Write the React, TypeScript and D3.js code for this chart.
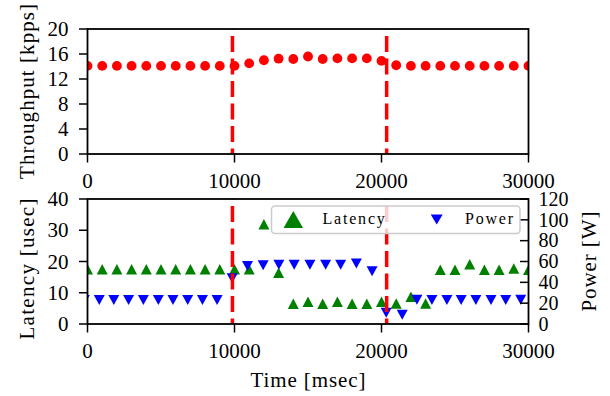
import React from 'react';
import * as d3 from 'd3';

// ---- data ----
const throughputTime = [0, 1000, 2000, 3000, 4000, 5000, 6000, 7000, 8000, 9000, 10000, 11000, 12000, 13000, 14000, 15000, 16000, 17000, 18000, 19000, 20000, 21000, 22000, 23000, 24000, 25000, 26000, 27000, 28000, 29000, 30000];
const throughput = [14.1, 14.1, 14.1, 14.1, 14.1, 14.1, 14.1, 14.1, 14.1, 14.1, 14.1, 14.5, 15.0, 15.25, 15.2, 15.6, 15.2, 15.3, 15.3, 15.3, 14.9, 14.2, 14.1, 14.1, 14.1, 14.1, 14.1, 14.1, 14.1, 14.1, 14.1];

const latencyTime = [0, 1000, 2000, 3000, 4000, 5000, 6000, 7000, 8000, 9000, 10000, 11000, 12000, 13000, 14000, 15000, 16000, 17000, 18000, 19000, 20000, 21000, 22000, 23000, 24000, 25000, 26000, 27000, 28000, 29000, 30000];
const latency = [17.5, 17.5, 17.5, 17.5, 17.5, 17.5, 17.5, 17.5, 17.5, 17.5, 17.5, 17.5, 31.9, 16.4, 6.5, 7.1, 6.5, 7.1, 6.5, 6.5, 7.1, 6.6, 8.7, 6.6, 17.4, 17.4, 19.1, 17.4, 17.4, 17.8, 17.4];

const powerTime = [-220, 800, 1790, 2795, 3800, 4820, 5815, 6817, 7820, 8815, 9840, 10885, 11950, 13020, 14060, 15130, 16200, 17220, 18290, 19360, 20320, 21410, 22410, 23430, 24450, 25420, 26420, 27450, 28450, 29470];
const power = [23, 23, 23, 23, 23, 23, 23, 23, 23, 23, 44, 55.7, 56.3, 57, 57, 57, 57, 57, 58.2, 50.6, 10.7, 9, 23.2, 23, 23, 23, 23, 23, 23, 23.4];

const eventTimes = [9860, 20350];

const xTicks = [0, 10000, 20000, 30000];
const throughputTicks = [0, 4, 8, 12, 16, 20];
const latencyTicks = [0, 10, 20, 30, 40];
const powerTicks = [0, 20, 40, 60, 80, 100, 120];

const FONT = "'Liberation Serif', 'DejaVu Serif', serif";

function triUp(cx: number, cy: number, w: number, h: number) {
  return `M${cx},${cy - h / 2}L${cx - w / 2},${cy + h / 2}L${cx + w / 2},${cy + h / 2}Z`;
}
function triDown(cx: number, cy: number, w: number, h: number) {
  return `M${cx},${cy + h / 2}L${cx - w / 2},${cy - h / 2}L${cx + w / 2},${cy - h / 2}Z`;
}

export default function App() {
  const L = 87.5, R = 528.5;
  const T1 = 29, B1 = 154;
  const T2 = 199, B2 = 324;
  const x = d3.scaleLinear().domain([0, 30000]).range([L, R]);
  const yT = d3.scaleLinear().domain([0, 20]).range([B1, T1]);
  const yL = d3.scaleLinear().domain([0, 40]).range([B2, T2]);
  const yP = d3.scaleLinear().domain([0, 120]).range([B2, T2]);

  const tickLen = 8.5;
  const fs = 21;

  const xAxis = (bottom: number) => (
    <g>
      {xTicks.map((t) => (
        <g key={t}>
          <line x1={x(t)} x2={x(t)} y1={bottom} y2={bottom + tickLen} stroke="#000" strokeWidth={1.5} />
          <text x={x(t)} y={bottom + 34} textAnchor="middle" fontSize={fs}>{t}</text>
        </g>
      ))}
    </g>
  );

  const yAxisLeft = (ticks: number[], scale: d3.ScaleLinear<number, number>) => (
    <g>
      {ticks.map((t) => (
        <g key={t}>
          <line x1={L - tickLen} x2={L} y1={scale(t)} y2={scale(t)} stroke="#000" strokeWidth={1.5} />
          <text x={L - 19} y={scale(t)} dy="0.34em" textAnchor="end" fontSize={fs}>{t}</text>
        </g>
      ))}
    </g>
  );

  const dashed = (top: number, bottom: number) =>
    eventTimes.map((t) => (
      <line key={t} x1={x(t)} x2={x(t)} y1={top} y2={bottom} stroke="#ff0000" strokeWidth={3.5}
        strokeDasharray="16 6.5" strokeDashoffset={15.5} />
    ));

  return (
    <svg width={610} height={396} style={{ position: 'absolute', left: 0, top: 0, background: '#fff', fontFamily: FONT }}>
      <defs>
        <clipPath id="clipTop"><rect x={L} y={T1} width={R - L} height={B1 - T1} /></clipPath>
        <clipPath id="clipBot"><rect x={L} y={T2} width={R - L} height={B2 - T2} /></clipPath>
      </defs>
      <rect x={0} y={0} width={610} height={396} fill="#fff" />

      {/* ---- top panel ---- */}
      <g clipPath="url(#clipTop)">
        {throughput.map((v, i) => (
          <circle key={i} cx={x(throughputTime[i])} cy={yT(v)} r={4.9} fill="#ff0000" />
        ))}
        {dashed(T1, B1)}
      </g>
      <rect x={L} y={T1} width={R - L} height={B1 - T1} fill="none" stroke="#000" strokeWidth={1.8} />
      {xAxis(B1)}
      {yAxisLeft(throughputTicks, yT)}
      <text transform={`translate(33.5,${(T1 + B1) / 2}) rotate(-90)`} textAnchor="middle" fontSize={fs}
        textLength={175} lengthAdjust="spacing">Throughput [kpps]</text>

      {/* ---- bottom panel ---- */}
      <g clipPath="url(#clipBot)">
        {latency.map((v, i) => (
          <path key={'l' + i} d={triUp(x(latencyTime[i]), yL(v), 11, 10.5)} fill="#008000" />
        ))}
        {power.map((v, i) => (
          <path key={'p' + i} d={triDown(x(powerTime[i]), yP(v), 11, 10)} fill="#0000ff" />
        ))}
        {dashed(T2, B2)}
      </g>
      <rect x={L} y={T2} width={R - L} height={B2 - T2} fill="none" stroke="#000" strokeWidth={1.8} />
      {xAxis(B2)}
      {yAxisLeft(latencyTicks, yL)}
      {powerTicks.map((t) => (
        <g key={t}>
          <line x1={R - tickLen} x2={R} y1={yP(t)} y2={yP(t)} stroke="#000" strokeWidth={1.5} />
          <text x={R + 10} y={yP(t)} dy="0.34em" textAnchor="start" fontSize={20}>{t}</text>
        </g>
      ))}
      <text transform={`translate(33.5,269) rotate(-90)`} textAnchor="middle" fontSize={fs}
        textLength={141} lengthAdjust="spacing">Latency [usec]</text>
      <text transform={`translate(596,${(T2 + B2) / 2}) rotate(-90)`} textAnchor="middle" fontSize={fs}
        textLength={100} lengthAdjust="spacing">Power [W]</text>
      <text x={(L + R) / 2} y={386.5} textAnchor="middle" fontSize={fs}
        textLength={115} lengthAdjust="spacing">Time [msec]</text>

      {/* ---- legend ---- */}
      <g>
        <rect x={271.5} y={206} width={248.5} height={27.5} rx={3.5} fill="#fff" fillOpacity={0.8}
          stroke="#cccccc" strokeWidth={1.5} />
        <path d={triUp(293.3, 219.5, 19.5, 17)} fill="#008000" />
        <text x={322.5} y={224.3} fontSize={16} letterSpacing={1.8}>Latency</text>
        <path d={triDown(436.7, 219.5, 12, 10)} fill="#0000ff" />
        <text x={465} y={224.3} fontSize={16} letterSpacing={1.8}>Power</text>
      </g>
    </svg>
  );
}
